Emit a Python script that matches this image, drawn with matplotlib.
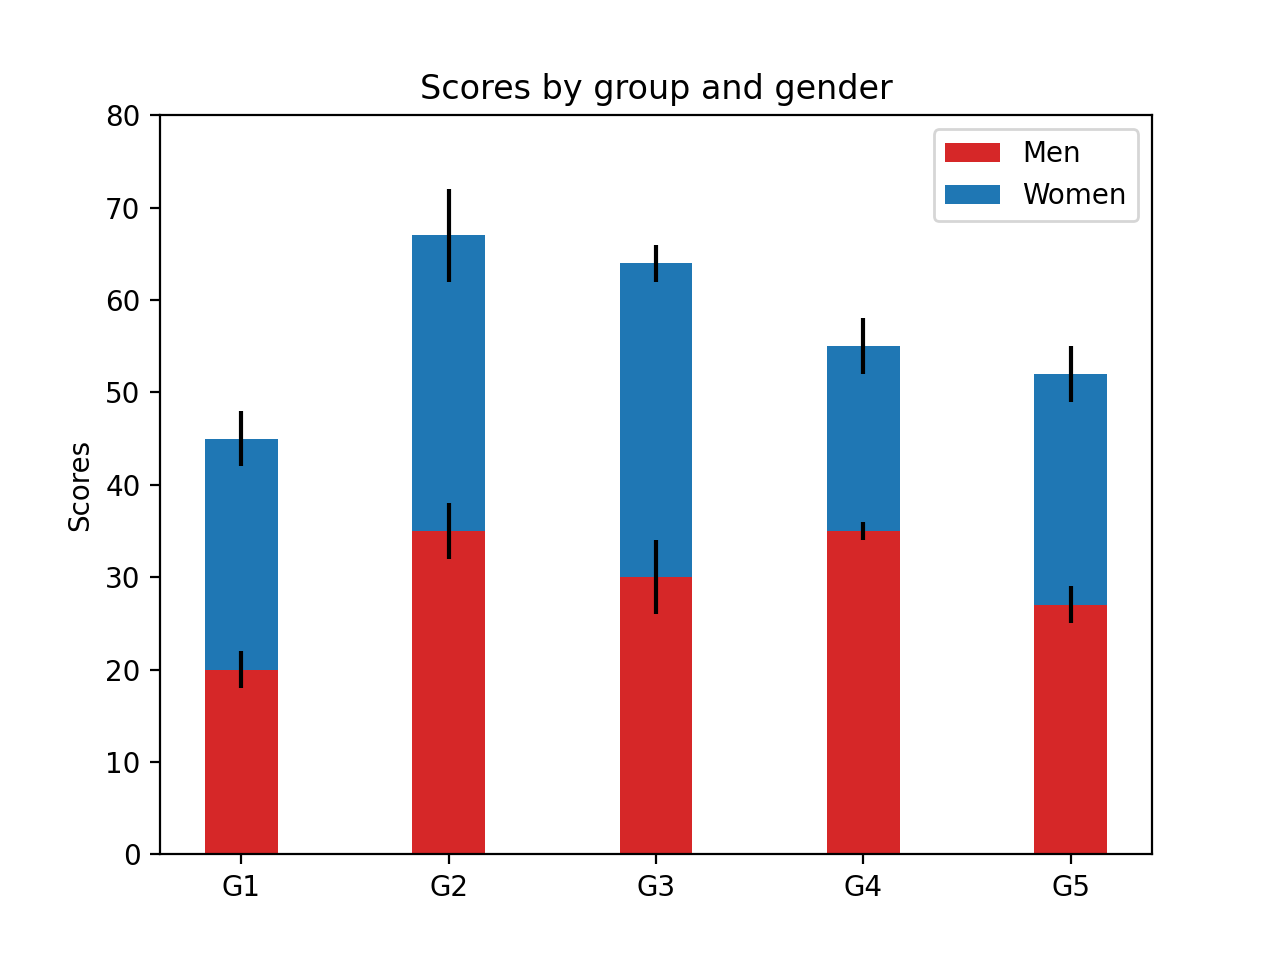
import numpy as np
import matplotlib
matplotlib.use('Agg')
from matplotlib import pyplot as plt

# data
groups = ['G1', 'G2', 'G3', 'G4', 'G5']
men_means = [20, 35, 30, 35, 27]
women_means = [25, 32, 34, 20, 25]
men_std = [2, 3, 4, 1, 2]
women_std = [3, 5, 2, 3, 3]

width = 0.35
ind = np.arange(len(groups))

fig, ax = plt.subplots(figsize=(6.4, 4.8), dpi=200)

ax.bar(ind, men_means, width, yerr=men_std, color='#d62728', label='Men')
ax.bar(ind, women_means, width, bottom=men_means, yerr=women_std,
       color='#1f77b4', label='Women')

ax.set_ylabel('Scores')
ax.set_title('Scores by group and gender')
ax.set_xticks(ind)
ax.set_xticklabels(groups)
ax.set_yticks(np.arange(0, 81, 10))
ax.set_ylim(0, 80)
ax.legend()

fig.savefig('out.png', dpi=200)
